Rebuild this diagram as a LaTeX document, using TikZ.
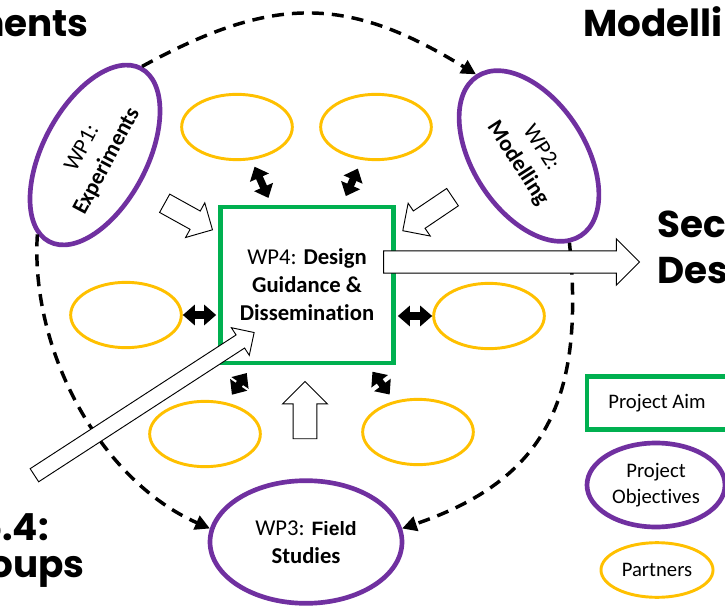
\documentclass[tikz,border=0pt]{standalone}
\usepackage{fontspec}
\setmainfont{Carlito}[Ligatures=NoCommon]
\newfontfamily\headfont{Poppins}
\newfontfamily\arialfont{Liberation Sans}
\usetikzlibrary{arrows.meta,shapes.geometric,shapes.arrows}
\definecolor{aimgreen}{HTML}{00B050}
\definecolor{objpurple}{HTML}{7030A0}
\definecolor{partyellow}{HTML}{FFC000}

\begin{document}
\begin{tikzpicture}[x=0.75pt,y=-0.75pt,font=\fontsize{17}{21}\selectfont,
  aim/.style={draw=aimgreen,line width=3.5pt,fill=white,align=center,inner sep=0pt},
  obj/.style={ellipse,draw=objpurple,line width=3.5pt,fill=white,align=center,inner sep=0pt},
  part/.style={ellipse,draw=partyellow,line width=2.2pt,minimum width=83pt,minimum height=49pt},
  lgd/.style={font=\fontsize{15.5}{19}\selectfont},
  big/.style={font=\headfont\bfseries\fontsize{28}{32}\selectfont,inner sep=0pt},
  dsh/.style={line width=2.6pt,dash pattern=on 9pt off 6pt,-{Triangle[length=11pt,width=11pt]}},
  dbl/.style={line width=5.5pt,{Triangle[length=9pt,width=15pt]}-{Triangle[length=9pt,width=15pt]}},
  blk/.style={single arrow,draw=black,fill=white,line width=0.7pt,inner xsep=0pt}]

\useasboundingbox (0,0) rectangle (725,606);
\clip (0,0) rectangle (725,606);

% headings from the slide behind
\node[big,anchor=base east] (h1) at (89,37) {ments};
\node[big,anchor=base west] (h2) at (583,37) {Modelli};
\node[big,anchor=base west] (h3) at (657,238) {Sec};
\node[big,anchor=base west] (h4) at (657,283) {Des};
\node[big,anchor=base east] (h5) at (49,540) {5.4:};
\node[big,anchor=base east] (h6) at (85,577) {oups};

% aim and objectives
\node[aim,minimum width=129.75pt,minimum height=117pt] (wp4) at (307,285)
  {WP4: \textbf{Design}\\\textbf{Guidance \&}\\\textbf{Dissemination}};
\node[obj,rotate=62,minimum width=147pt,minimum height=78pt] (wp1) at (95,155)
  {WP1:\\\textbf{Experiments}};
\node[obj,rotate=-57,minimum width=142.5pt,minimum height=84pt] (wp2) at (529,156)
  {WP2:\\\textbf{Modelling}};
\node[obj,minimum width=144pt,minimum height=92pt] (wp3) at (306,542)
  {WP3: {\arialfont\bfseries\fontsize{14.5}{21}\selectfont Field}\\\textbf{Studies}};

% partners
\node[part] (p1) at (237,127) {};
\node[part] (p2) at (376,127) {};
\node[part] (p3) at (126,315) {};
\node[part] (p4) at (489,316) {};
\node[part] (p5) at (205,434) {};
\node[part] (p6) at (418,432) {};

% legend
\node[aim,lgd,minimum width=105pt,minimum height=40pt] (la) at (657,403) {Project Aim};
\node[obj,lgd,minimum width=103.5pt,minimum height=63pt] (lo) at (656,485) {Project\\Objectives};
\node[part,lgd,minimum width=83pt,minimum height=41pt] (lp) at (657,570) {Partners};

% work package cycle
\draw[dsh] (wp1.east) .. controls (273,-5) and (347,-5) .. (wp2.west);
\draw[dsh] (wp1.172) .. controls (30,350) and (100,480) .. (wp3.172);
\draw[dsh] (wp2.-8) .. controls (585,400) and (545,480) .. (wp3.8);

% block arrows
\node[blk,rotate=-29,minimum height=41pt,inner ysep=7.5pt,single arrow head extend=7pt] (b1) at (184,214) {};
\node[blk,rotate=214,minimum height=45pt,inner ysep=7.5pt,single arrow head extend=7pt] (b2) at (432,211) {};
\node[blk,rotate=90,minimum height=43pt,inner ysep=8.5pt,single arrow head extend=8pt] (b3) at (305,416) {};
\node[blk,minimum height=192pt,inner ysep=8pt,single arrow head extend=9pt] (b4) at (506,262) {};
\node[blk,rotate=33,minimum height=196.5pt,inner ysep=5.5pt,single arrow head extend=6.5pt] (b5) at (141,406) {};

% partner links
\draw[dbl,shorten <=5.5pt,shorten >=5.5pt] (p1)--(wp4);
\draw[dbl,shorten <=7pt,shorten >=7pt] (p2)--(wp4);
\draw[dbl,shorten >=1.5pt] (p3)--(p3 -| wp4.west);
\draw[dbl,shorten >=1.5pt] (p4)--(p4 -| wp4.east);
\draw[dbl,shorten <=7pt,shorten >=7pt] (p5)--(wp4);
\draw[dbl,shorten <=6pt,shorten >=6pt] (p6)--(wp4);
\end{tikzpicture}
\end{document}
